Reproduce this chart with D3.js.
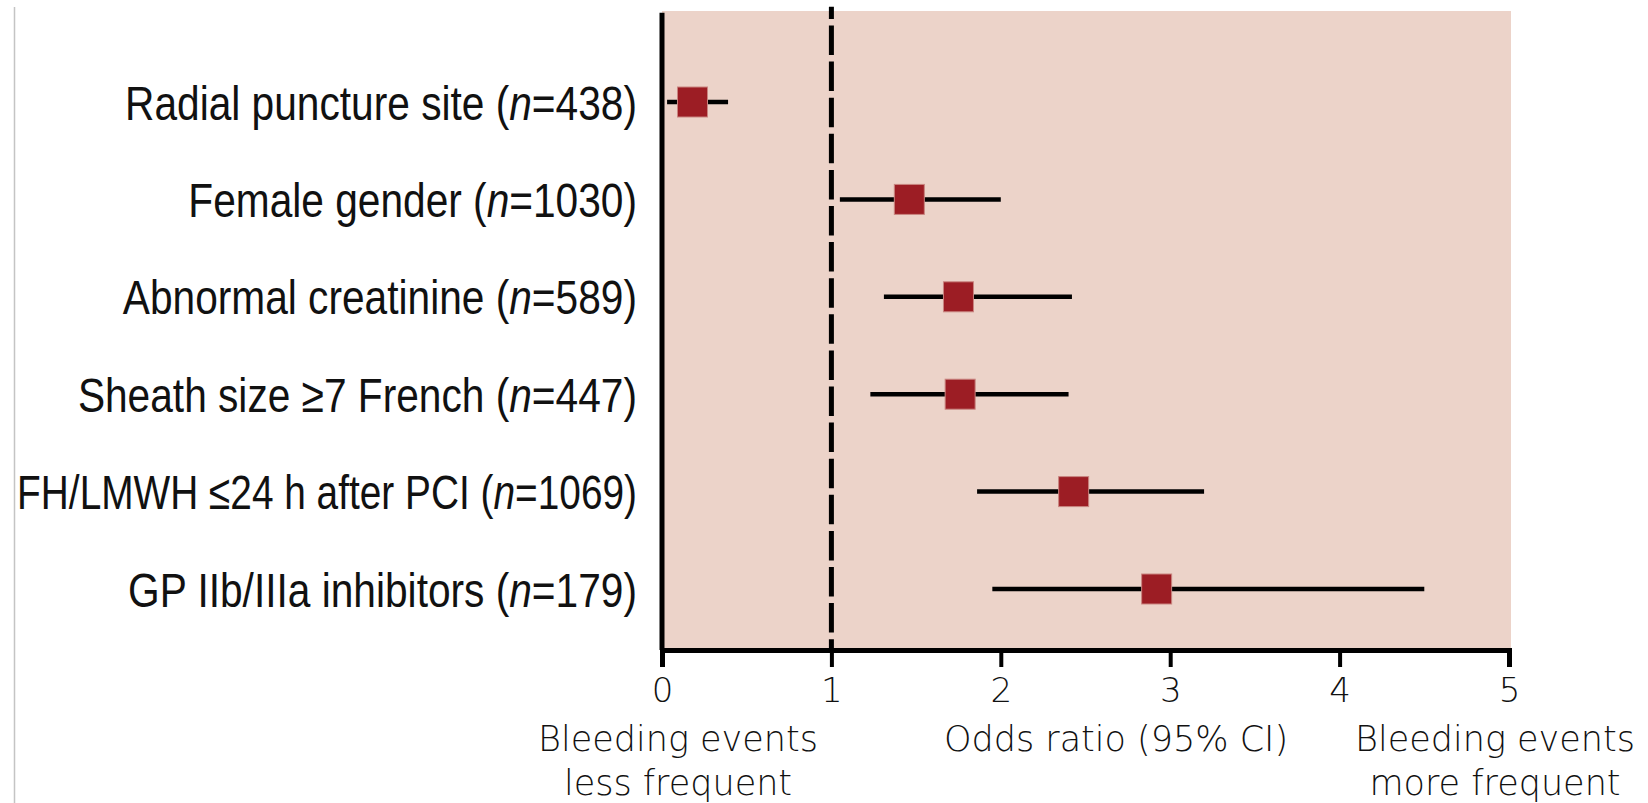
<!DOCTYPE html>
<html>
<head>
<meta charset="utf-8">
<script src="https://cdn.jsdelivr.net/npm/d3@7"></script>
<style>
  html, body { margin: 0; padding: 0; background: #ffffff; }
  svg { display: block; }
</style>
</head>
<body>
<script>
// ---- data ----
const categories = ["Radial puncture site", "Female gender", "Abnormal creatinine", "Sheath size \u22657 French", "FH/LMWH \u226424 h after PCI", "GP IIb/IIIa inhibitors"];
const sampleSizes = [438, 1030, 589, 447, 1069, 179];
const oddsRatios = [0.18, 1.46, 1.75, 1.76, 2.43, 2.92];
const ciLower = [0.03, 1.05, 1.31, 1.23, 1.86, 1.95];
const ciUpper = [0.39, 2.00, 2.42, 2.40, 3.20, 4.50];
const xTickValues = [0, 1, 2, 3, 4, 5];
const referenceValue = 1;
const axisTitle = "Odds ratio (95% CI)";
const leftNote = ["Bleeding events", "less frequent"];
const rightNote = ["Bleeding events", "more frequent"];

const rows = categories.map((c, i) => ({ cat: c, n: sampleSizes[i], or: oddsRatios[i], lo: ciLower[i], hi: ciUpper[i] }));

// ---- layout ----
const W = 1648, H = 803;
const plotTop = 11, baseY = 650;
const svg = d3.select("body").append("svg").attr("width", W).attr("height", H);

const x = d3.scaleLinear().domain([0, 5]).range([662, 1509]);
const y = d3.scalePoint().domain(categories).range([102, 589]);

// thin gray frame line at left
svg.append("line").attr("x1", 14.5).attr("x2", 14.5).attr("y1", 7).attr("y2", H)
  .attr("stroke", "#c4c4c4").attr("stroke-width", 1.5);

// pink background
svg.append("rect").attr("x", x(0)).attr("y", plotTop)
  .attr("width", x(5) - x(0) + 2).attr("height", baseY - plotTop)
  .attr("fill", "#ecd3c9");

// reference dashed line
svg.append("line").attr("x1", x(referenceValue)).attr("x2", x(referenceValue))
  .attr("y1", 6.7).attr("y2", baseY)
  .attr("stroke", "#000").attr("stroke-width", 5)
  .attr("stroke-dasharray", "29.5,6.6").attr("stroke-dashoffset", 17.3);

// left axis line
svg.append("line").attr("x1", x(0)).attr("x2", x(0)).attr("y1", 12.7).attr("y2", baseY)
  .attr("stroke", "#000").attr("stroke-width", 5);

// bottom axis
const xAxis = d3.axisBottom(x).tickValues(xTickValues).tickFormat(d3.format("d"))
  .tickSize(17).tickSizeOuter(17).tickPadding(11);
const gx = svg.append("g").attr("transform", `translate(0,${baseY})`).call(xAxis);
gx.select(".domain").attr("stroke", "#000").attr("stroke-width", 5).attr("fill", "none");
gx.selectAll(".tick line").attr("stroke", "#000").attr("stroke-width", 4);
gx.selectAll(".tick text")
  .attr("font-family", "'DejaVu Sans', sans-serif").attr("font-weight", 300)
  .attr("font-size", 34).attr("fill", "#111");

// CI lines
svg.append("g").selectAll("line").data(rows).join("line")
  .attr("x1", d => x(d.lo)).attr("x2", d => x(d.hi))
  .attr("y1", d => y(d.cat)).attr("y2", d => y(d.cat))
  .attr("stroke", "#000").attr("stroke-width", 4.5);

// markers
const ms = 30;
svg.append("g").selectAll("rect").data(rows).join("rect")
  .attr("x", d => x(d.or) - ms / 2).attr("y", d => y(d.cat) - ms / 2)
  .attr("width", ms).attr("height", ms)
  .attr("fill", "#9c1d24").attr("stroke", "#c98580").attr("stroke-width", 1);

// row labels (condensed by horizontal scaling, each in its own group)
const squeeze = 0.83, labelRight = 637, labelMaxW = 620;
const labGroups = svg.append("g").selectAll("g").data(rows).join("g")
  .attr("transform", `translate(${labelRight},0) scale(${squeeze},1)`);
const lab = labGroups.append("text")
  .attr("x", 0).attr("y", d => y(d.cat)).attr("dy", "0.36em")
  .attr("text-anchor", "end")
  .attr("font-family", "'Liberation Sans', Arial, sans-serif")
  .attr("font-size", 49).attr("fill", "#111");
lab.append("tspan").text(d => d.cat + " (");
lab.append("tspan").attr("font-style", "italic").text("n");
lab.append("tspan").text(d => "=" + d.n + ")");
lab.each(function () {
  const natural = this.getComputedTextLength();
  const s = Math.min(squeeze, labelMaxW / natural);
  d3.select(this.parentNode).attr("transform", `translate(${labelRight},0) scale(${s},1)`);
});

// bottom annotations
const noteFont = "'DejaVu Sans', sans-serif";
function note(lines, cx) {
  lines.forEach((t, i) => {
    svg.append("text").attr("x", cx).attr("y", 751 + i * 44)
      .attr("text-anchor", "middle").attr("font-family", noteFont).attr("font-weight", 300)
      .attr("font-size", 35).attr("fill", "#111").text(t);
  });
}
note(leftNote, 678);
note(rightNote, 1495);
note([axisTitle], 1116);
</script>
</body>
</html>
